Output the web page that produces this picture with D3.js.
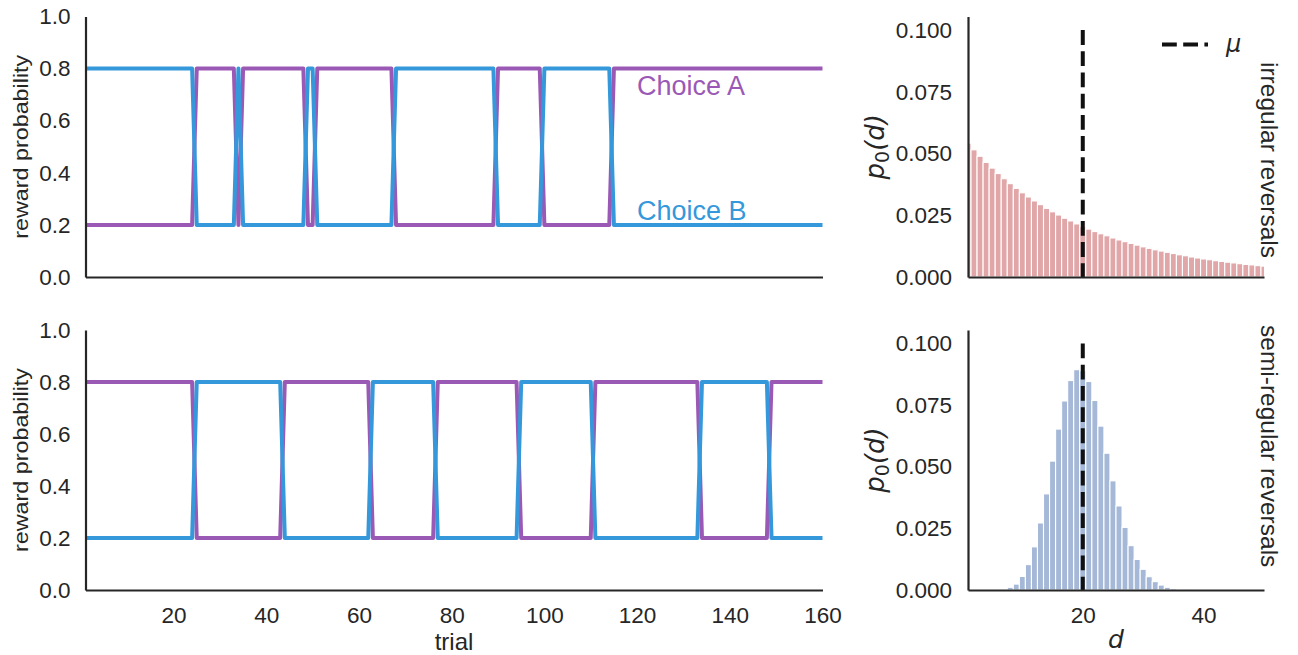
<!DOCTYPE html>
<html><head><meta charset="utf-8">
<script src="https://cdn.jsdelivr.net/npm/d3@7"></script>
<style>body{margin:0;background:#fff} svg{display:block}</style>
</head><body>
<svg id="c" width="1298" height="655"></svg>
<script>
// ---------------- data ----------------
const trialRange = [1, 160];
const topReversalTrials = [25, 34, 35, 49, 51, 68, 90, 100, 115];   // first trial of a new state
const bottomReversalTrials = [25, 44, 63, 77, 95, 111, 134, 149];
const probHigh = 0.8;
const probLow = 0.2;
const topChoiceAStartsHigh = false;
const bottomChoiceAStartsHigh = true;
const leftYTicks = [0, 0.2, 0.4, 0.6, 0.8, 1.0];
const leftXTicks = [20, 40, 60, 80, 100, 120, 140, 160];

const dValues = d3.range(1, 51);
const irregularP = [0.0542, 0.0515, 0.0489, 0.0464, 0.0441, 0.0419, 0.0398, 0.0378, 0.0359, 0.0341,
  0.0324, 0.0308, 0.0293, 0.0278, 0.0264, 0.0251, 0.0238, 0.0227, 0.0215, 0.0204,
  0.0194, 0.0184, 0.0175, 0.0167, 0.0158, 0.0150, 0.0143, 0.0136, 0.0129, 0.0122,
  0.0116, 0.0110, 0.0105, 0.0100, 0.0095, 0.0090, 0.0086, 0.0081, 0.0077, 0.0073,
  0.0070, 0.0066, 0.0063, 0.0060, 0.0057, 0.0054, 0.0051, 0.0049, 0.0046, 0.0044];
const semiRegularP = [0, 0, 0, 0, 0, 0, 0.0004, 0.0011, 0.0024, 0.0055,
  0.0103, 0.0175, 0.0272, 0.0390, 0.0523, 0.0653, 0.0767, 0.0850, 0.0894, 0.0890,
  0.0846, 0.0769, 0.0665, 0.0555, 0.0443, 0.0341, 0.0254, 0.0180, 0.0124, 0.0084,
  0.0054, 0.0034, 0.0020, 0.0011, 0.0006, 0.0003, 0.0001, 0, 0, 0,
  0, 0, 0, 0, 0, 0, 0, 0, 0, 0];
const rightYTicks = [0, 0.025, 0.05, 0.075, 0.1];
const rightXTicks = [20, 40];
const meanInterval = 20;
const rightYMax = 0.1055;

// ---------------- styles ----------------
const colA = "#9b59b6", colB = "#3498db";
const textCol = "#262626";
const FONT = "'Liberation Sans', Arial, sans-serif";
const MATH = "'DejaVu Sans', sans-serif";

const svg = d3.select("#c");

const L = {x0: 85.5, x1: 822.5};
const R = {x0: 968, x1: 1264};
const rows = [{top: 16.5, bot: 277}, {top: 330, bot: 590}];

function stateSeries(reversals, aStartsHigh) {
  const trials = d3.range(trialRange[0], trialRange[1] + 1);
  let aHigh = aStartsHigh;
  const out = [];
  for (const t of trials) {
    if (reversals.includes(t)) aHigh = !aHigh;
    out.push({t, a: aHigh ? probHigh : probLow, b: aHigh ? probLow : probHigh});
  }
  return out;
}

function styleAxis(g, size) {
  g.selectAll("text").attr("fill", textCol).style("font-family", FONT).style("font-size", size + "px");
  g.select(".domain").attr("stroke", textCol).attr("stroke-width", 2.2);
  g.selectAll(".tick line").remove();
}

function leftPanel(row, reversals, aStartsHigh, showX) {
  const x = d3.scaleLinear().domain(trialRange).range([L.x0, L.x1]);
  const y = d3.scaleLinear().domain([0, 1]).range([row.bot, row.top]);
  const data = stateSeries(reversals, aStartsHigh);
  const g = svg.append("g");
  const line = key => d3.line().x(d => x(d.t)).y(d => y(d[key]));
  g.append("path").datum(data).attr("d", line("a")).attr("fill", "none")
    .attr("stroke", colA).attr("stroke-width", 4).attr("stroke-linejoin", "round");
  g.append("path").datum(data).attr("d", line("b")).attr("fill", "none")
    .attr("stroke", colB).attr("stroke-width", 4).attr("stroke-linejoin", "round");
  const ya = g.append("g").attr("transform", `translate(${L.x0},0)`)
    .call(d3.axisLeft(y).tickValues(leftYTicks).tickSize(0).tickSizeOuter(0).tickPadding(15)
      .tickFormat(d3.format(".1f")));
  styleAxis(ya, 22.5);
  const xa = g.append("g").attr("transform", `translate(0,${row.bot})`)
    .call(d3.axisBottom(x).tickValues(showX ? leftXTicks : []).tickSize(0).tickSizeOuter(0).tickPadding(17));
  styleAxis(xa, 22.5);
  g.append("text").attr("transform", `translate(28,${(row.top + row.bot) / 2}) rotate(-90)`)
    .attr("text-anchor", "middle").attr("fill", textCol)
    .attr("textLength", 184).attr("lengthAdjust", "spacingAndGlyphs")
    .style("font-family", FONT).style("font-size", "20px").text("reward probability");
  return {x, y};
}

function rightPanel(row, values, barCol, showX, id) {
  const x = d3.scaleLinear().domain([1, 50]).range([R.x0, R.x1]);
  const y = d3.scaleLinear().domain([0, rightYMax]).range([row.bot, row.top]);
  const g = svg.append("g");
  svg.append("clipPath").attr("id", id).append("rect")
    .attr("x", R.x0).attr("y", row.top).attr("width", R.x1 - R.x0).attr("height", row.bot - row.top);
  const bars = g.append("g").attr("clip-path", `url(#${id})`);
  bars.selectAll("rect").data(dValues.map((d, i) => ({d, p: values[i]})).filter(o => o.p > 0))
    .join("rect")
    .attr("x", o => x(o.d - 0.5)).attr("width", o => x(o.d + 0.5) - x(o.d - 0.5))
    .attr("y", o => y(o.p)).attr("height", o => y(0) - y(o.p))
    .attr("fill", barCol).attr("stroke", "#fff").attr("stroke-width", 1.1);
  g.append("line").attr("x1", x(meanInterval)).attr("x2", x(meanInterval))
    .attr("y1", y(0.1)).attr("y2", y(0))
    .attr("stroke", "#111").attr("stroke-width", 4).attr("stroke-dasharray", "14.8,6.4");
  const ya = g.append("g").attr("transform", `translate(${R.x0},0)`)
    .call(d3.axisLeft(y).tickValues(rightYTicks).tickSize(0).tickSizeOuter(0).tickPadding(16)
      .tickFormat(d3.format(".3f")));
  styleAxis(ya, 22.5);
  const xa = g.append("g").attr("transform", `translate(0,${row.bot})`)
    .call(d3.axisBottom(x).tickValues(showX ? rightXTicks : []).tickSize(0).tickSizeOuter(0).tickPadding(17));
  styleAxis(xa, 22.5);
  // y label p0(d)
  const t = g.append("text").attr("transform", `translate(884,${(row.top + row.bot) / 2}) rotate(-90)`)
    .attr("text-anchor", "middle").attr("fill", textCol)
    .style("font-family", MATH).style("font-size", "26px").style("font-style", "italic");
  t.append("tspan").text("p");
  t.append("tspan").attr("dy", 5).style("font-size", "19px").style("font-style", "normal").text("0");
  t.append("tspan").attr("dy", -5).text("(d)");
  return {x, y, g};
}

leftPanel(rows[0], topReversalTrials, topChoiceAStartsHigh, false);
leftPanel(rows[1], bottomReversalTrials, bottomChoiceAStartsHigh, true);

svg.append("text").attr("x", 637).attr("y", 95).attr("fill", colA)
  .style("font-family", FONT).style("font-size", "27px").text("Choice A");
svg.append("text").attr("x", 637).attr("y", 220).attr("fill", colB)
  .style("font-family", FONT).style("font-size", "27px").text("Choice B");

svg.append("text").attr("x", (L.x0 + L.x1) / 2).attr("y", 650).attr("text-anchor", "middle")
  .attr("fill", textCol).style("font-family", FONT).style("font-size", "24px").text("trial");

rightPanel(rows[0], irregularP, "#e1a6a8", false, "clipTop");
rightPanel(rows[1], semiRegularP, "#a5b8d7", true, "clipBot");

svg.append("text").attr("x", (R.x0 + R.x1) / 2).attr("y", 648).attr("text-anchor", "middle")
  .attr("fill", textCol).style("font-family", MATH).style("font-size", "25px").style("font-style", "italic").text("d");

// legend
svg.append("line").attr("x1", 1162).attr("x2", 1208).attr("y1", 44.5).attr("y2", 44.5)
  .attr("stroke", "#111").attr("stroke-width", 4).attr("stroke-dasharray", "14.8,6.4");
svg.append("text").attr("x", 1226).attr("y", 52).attr("fill", textCol)
  .style("font-family", MATH).style("font-size", "24px").style("font-style", "italic").text("μ");

// right side labels
svg.append("text").attr("transform", "translate(1261,62) rotate(90)")
  .attr("fill", textCol).style("font-family", FONT).style("font-size", "24.5px").text("irregular reversals");
svg.append("text").attr("transform", "translate(1261,325) rotate(90)")
  .attr("fill", textCol).style("font-family", FONT).style("font-size", "24.5px").text("semi-regular reversals");
</script>
</body></html>
